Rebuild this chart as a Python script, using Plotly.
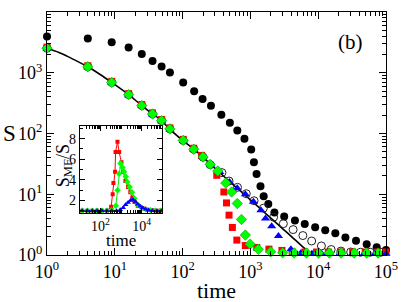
import plotly.graph_objects as go

# ---------------- main panel data ----------------
t_mf = [1, 4, 9, 16, 25, 36, 49, 65, 102, 148, 197, 262, 373, 498, 641, 817, 1028, 1127,
        1233, 1408, 1570, 1836, 2262, 3152, 4540, 6330, 9020, 12700, 17900, 25200, 36100,
        51900, 72900, 100000]
s_mf = [3936, 3650, 3186, 2600, 2027, 1556, 1265, 1012, 693, 494, 370, 286, 203, 150, 112,
        82, 54.7, 33.5, 21.5, 13.5, 9.3, 6.93, 5.0, 4.3, 3.68, 3.25, 2.85, 2.55, 2.27, 1.94,
        1.72, 1.51, 1.34, 1.21]

t_line = [1, 1.5, 2, 3, 4, 6, 9, 16, 25, 36, 49, 64, 100, 144, 200, 260, 353, 500, 700,
          1000, 1500, 2000, 3000, 4000, 5500, 7000, 8000]
s_line = [2540, 2160, 1862, 1483, 1254, 944, 693, 436, 288, 210, 163, 119, 77, 56, 41, 31,
          22.7, 16, 11.5, 8.1, 5.4, 4.05, 2.7, 2.03, 1.47, 1.16, 1.0]

t_early = [1, 4, 9, 16, 25, 36, 49, 65, 102, 146]
s_early = [2540, 1254, 693, 436, 288, 210, 163, 119, 77, 55]

t_open = t_early + [200, 255, 380, 484, 645, 869, 1132, 1552, 2198, 3062, 4266, 5943, 8010,
                    11150, 15530, 21640, 30130, 42000, 58500, 84100]
s_open = s_early + [40.9, 30.7, 22.7, 16.5, 13.0, 10.2, 7.82, 5.89, 4.20, 3.28, 2.62, 2.09,
                    1.70, 1.41, 1.23, 1.16, 1.12, 1.11, 1.11, 1.11]

t_red = t_early + [190, 319, 406, 444, 484, 542, 631, 842, 1241, 1877, 2917, 4130, 6350,
                   9460, 14070, 21640, 32200, 49500, 73800, 100000]
s_red = [v * 1.04 for v in s_early] + [43.6, 20.5, 10.9, 7.2, 4.53, 2.84, 1.76, 1.43, 1.33,
                                      1.25, 1.19, 1.12, 1.12, 1.12, 1.12, 1.12, 1.12, 1.12,
                                      1.12, 1.12]

t_green = t_early + [200, 255, 330, 434, 529, 640, 738, 842, 993, 1308, 1990, 2993, 4420,
                     6710, 10100, 14580, 21830, 34000, 51800, 76400]
s_green = s_early + [41, 31, 24.1, 15.3, 10.9, 7.04, 3.85, 2.13, 1.51, 1.24, 1.13, 1.09,
                     1.08, 1.08, 1.08, 1.08, 1.08, 1.08, 1.08, 1.08]

t_blue = t_early + [200, 260, 353, 492, 640, 842, 1109, 1430, 1671, 2059, 2596, 3955, 5510,
                    8090, 11270, 14880, 20730, 32200, 47400, 68400, 100000]
s_blue = [v * 0.98 for v in s_early] + [41, 31, 23.2, 15.9, 12.5, 10.0, 7.5, 5.46, 4.0, 2.96,
                                        2.05, 1.24, 1.07, 1.05, 1.05, 1.05, 1.05, 1.05, 1.05,
                                        1.05, 1.05]

# ---------------- inset data (S_MF / S) ----------------
ti_red = [13, 23, 40, 68, 117, 204, 330, 390, 425, 510, 540, 670, 810, 1045, 1260, 1620,
          2180, 2800, 3500, 4500, 6450, 11200, 19200, 33000, 57000, 89000]
ri_red = [1.0, 1.0, 1.0, 1.0, 1.0, 1.0, 1.4, 2.6, 3.7, 4.8, 6.7, 7.7, 6.7, 5.7, 4.8, 3.9,
          3.3, 2.8, 2.3, 1.85, 1.5, 1.25, 1.12, 1.05, 1.0, 1.0]

ti_green = [13, 23, 40, 68, 117, 204, 350, 560, 676, 795, 940, 1170, 1410, 1690, 2000, 2610,
            3370, 4480, 6450, 10000, 15900, 27000, 46000, 80000]
ri_green = [1.0, 1.0, 1.0, 1.0, 1.0, 1.0, 1.05, 1.5, 3.0, 4.6, 5.6, 5.2, 4.8, 4.3, 3.8, 3.3,
            2.8, 2.2, 1.6, 1.28, 1.15, 1.05, 1.0, 1.0]

ti_blue = [13, 23, 40, 68, 117, 204, 350, 600, 910, 1260, 1660, 2190, 2870, 3740, 4900,
           6450, 8500, 11200, 15500, 21500, 33000, 55000, 90000]
ri_blue = [1.0, 1.0, 1.0, 1.0, 1.0, 1.0, 1.0, 1.0, 1.1, 1.3, 1.6, 1.8, 2.0, 2.1, 1.9, 1.65,
           1.45, 1.3, 1.15, 1.08, 1.02, 1.0, 1.0]

# ---------------- tick labels ----------------
main_x_ticks = [1, 10, 100, 1000, 10000, 100000]
main_x_text = ["10<sup>0</sup>", "10<sup>1</sup>", "10<sup>2</sup>", "10<sup>3</sup>",
               "10<sup>4</sup>", "10<sup>5</sup>"]
main_y_ticks = [1, 10, 100, 1000, 10000]
main_y_text = ["10<sup>0</sup>", "10<sup>1</sup>", "10<sup>2</sup>", "10<sup>3</sup>",
               "10<sup>4</sup>"]
inset_x_ticks = [100, 10000]
inset_x_text = ["10<sup>2</sup>", "10<sup>4</sup>"]
inset_y_ticks = [2, 4, 6, 8]
inset_y_text = ["2", "4", "6", "8"]

FONT = "Liberation Serif"

fig = go.Figure()

# main traces
fig.add_trace(go.Scatter(x=t_mf, y=s_mf, mode="markers", cliponaxis=False,
                         marker=dict(symbol="circle", size=8, color="black"), showlegend=False))
fig.add_trace(go.Scatter(x=t_line, y=s_line, mode="lines", line=dict(color="black", width=1.6),
                         line_shape="spline", showlegend=False))
fig.add_trace(go.Scatter(x=t_open, y=s_open, mode="markers", cliponaxis=False,
                         marker=dict(symbol="circle-open", size=8, color="#222222",
                                     line=dict(width=1)), showlegend=False))
fig.add_trace(go.Scatter(x=t_red, y=s_red, mode="markers", cliponaxis=False,
                         marker=dict(symbol="square", size=7, color="#ff0000"), showlegend=False))
fig.add_trace(go.Scatter(x=t_blue, y=s_blue, mode="markers", cliponaxis=False,
                         marker=dict(symbol="triangle-up", size=8, color="#0000ff"),
                         showlegend=False))
fig.add_trace(go.Scatter(x=t_green, y=s_green, mode="markers", cliponaxis=False,
                         marker=dict(symbol="diamond", size=8, color="#00ff00",
                                     line=dict(width=0.6, color="#00a000")), showlegend=False))

# inset traces
fig.add_trace(go.Scatter(x=ti_red, y=ri_red, mode="lines+markers", xaxis="x2", yaxis="y2",
                         line=dict(color="#ff0000", width=1),
                         marker=dict(symbol="square", size=4, color="#ff0000"), showlegend=False))
fig.add_trace(go.Scatter(x=ti_green, y=ri_green, mode="lines+markers", xaxis="x2", yaxis="y2",
                         line=dict(color="#00ee00", width=1),
                         marker=dict(symbol="diamond", size=5, color="#00ff00"), showlegend=False))
fig.add_trace(go.Scatter(x=ti_blue, y=ri_blue, mode="lines+markers", xaxis="x2", yaxis="y2",
                         line=dict(color="#0000ff", width=1),
                         marker=dict(symbol="triangle-up", size=5, color="#0000ff"),
                         showlegend=False))

minor_main = [m * 10 ** k for k in range(0, 5) for m in range(2, 10)]
minor_inset_x = [m * 10 ** k for k in range(1, 5) for m in range(1, 10)
                 if m * 10 ** k not in (100, 10000)]

common = dict(showline=True, linecolor="black", linewidth=1, mirror="allticks",
              ticks="inside", tickcolor="black", showgrid=False, zeroline=False)

fig.update_layout(
    width=409, height=302,
    margin=dict(l=47, r=15, t=11, b=47),
    paper_bgcolor="white", plot_bgcolor="white",
    font=dict(family=FONT, color="black"),
    xaxis=dict(type="log", range=[0, 5], domain=[0, 1], tickmode="array",
               tickvals=main_x_ticks, ticktext=main_x_text, ticklen=7,
               tickfont=dict(size=18, family=FONT),
               minor=dict(tickmode="array", tickvals=minor_main, ticklen=4, ticks="inside",
                          tickcolor="black"),
               **common),
    yaxis=dict(type="log", range=[0, 4], domain=[0, 1], tickmode="array",
               tickvals=main_y_ticks, ticktext=main_y_text, ticklen=7,
               tickfont=dict(size=18, family=FONT),
               minor=dict(tickmode="array", tickvals=minor_main, ticklen=4, ticks="inside",
                          tickcolor="black"),
               **common),
    xaxis2=dict(type="log", range=[1, 5], domain=[0.097, 0.340], anchor="y2",
                tickmode="array", tickvals=inset_x_ticks, ticktext=inset_x_text, ticklen=5,
                tickfont=dict(size=14, family=FONT),
                minor=dict(tickmode="array", tickvals=minor_inset_x, ticklen=3,
                           ticks="inside", tickcolor="black"),
                **common),
    yaxis2=dict(range=[0.75, 9.2], domain=[0.171, 0.530], anchor="x2",
                tickmode="array", tickvals=inset_y_ticks, ticktext=inset_y_text, ticklen=5,
                tickfont=dict(size=14, family=FONT),
                minor=dict(tickmode="array", tickvals=[1, 3, 5, 7, 9], ticklen=3,
                           ticks="inside", tickcolor="black"),
                **common),
    annotations=[
        dict(text="S", x=-0.11, y=0.5, xref="paper", yref="paper", showarrow=False,
             xanchor="center", yanchor="middle", font=dict(size=23, family=FONT)),
        dict(text="time", x=0.501, y=-0.148, xref="paper", yref="paper", showarrow=False,
             xanchor="center", yanchor="middle", font=dict(size=22, family=FONT)),
        dict(text="(b)", x=0.894, y=0.877, xref="paper", yref="paper", showarrow=False,
             xanchor="center", yanchor="middle", font=dict(size=21, family=FONT)),
        dict(text="time", x=0.2176, y=0.0615, xref="paper", yref="paper", showarrow=False,
             xanchor="center", yanchor="middle", font=dict(size=17, family=FONT)),
        dict(text="S<sub>MF</sub>/S", x=0.05, y=0.369, xref="paper", yref="paper",
             showarrow=False, textangle=-90, xanchor="center", yanchor="middle",
             font=dict(size=18, family=FONT)),
    ],
)

fig.write_html("out.html", config={"displayModeBar": False},
               post_script="document.body.style.margin='0px';")
